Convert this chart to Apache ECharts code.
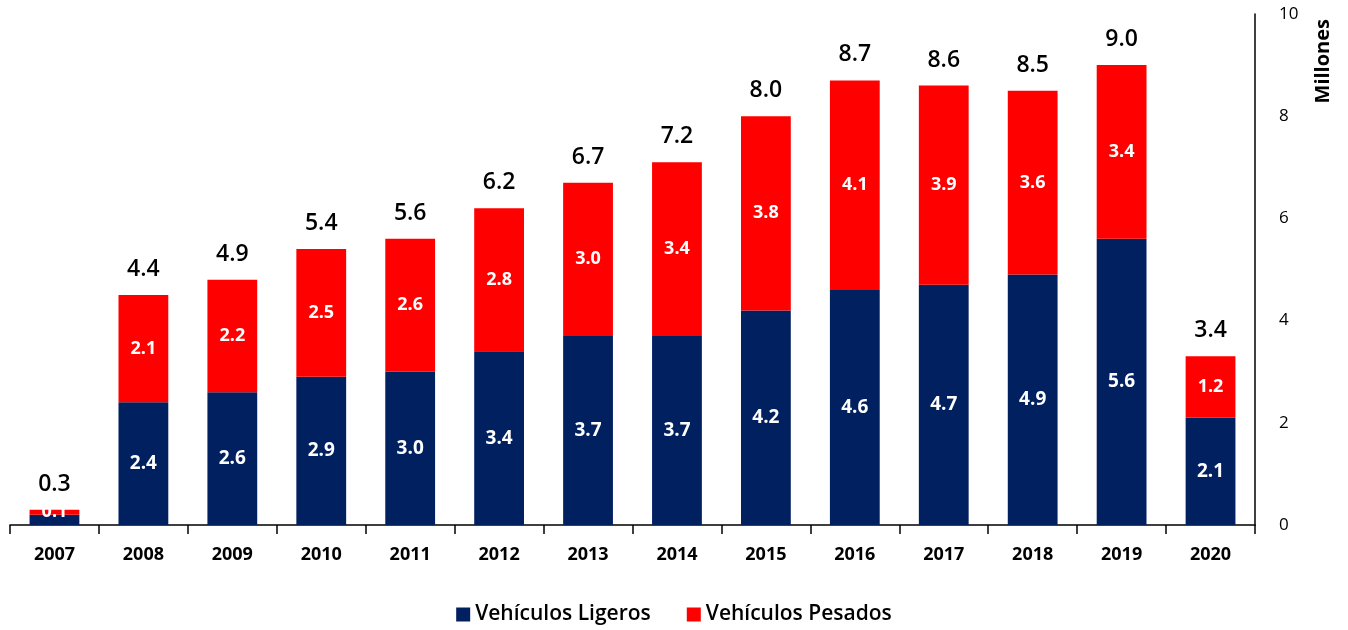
<!DOCTYPE html>
<html>
<head>
<meta charset="utf-8">
<script src="https://cdn.jsdelivr.net/npm/echarts@6/dist/echarts.min.js"></script>
<style>
  html, body { margin: 0; padding: 0; background: #fff; }
  #chart { width: 1348px; height: 630px; }
</style>
</head>
<body>
<div id="chart"></div>
<script>
// datos (millones de vehículos)
const years = ['2007', '2008', '2009', '2010', '2011', '2012', '2013', '2014', '2015', '2016', '2017', '2018', '2019', '2020']
const ligeros = [0.2, 2.4, 2.6, 2.9, 3.0, 3.4, 3.7, 3.7, 4.2, 4.6, 4.7, 4.9, 5.6, 2.1]
const pesados = [0.1, 2.1, 2.2, 2.5, 2.6, 2.8, 3.0, 3.4, 3.8, 4.1, 3.9, 3.6, 3.4, 1.2]
const totales = [0.3, 4.4, 4.9, 5.4, 5.6, 6.2, 6.7, 7.2, 8.0, 8.7, 8.6, 8.5, 9.0, 3.4]
const yTicks = [0, 2, 4, 6, 8, 10]

const font = '"Open Sans", sans-serif'
const chart = echarts.init(document.getElementById('chart'))

const option = {
  animation: false,
  textStyle: { fontFamily: font },
  grid: { left: 10, right: 93, top: 14, bottom: 105 },
  legend: {
    bottom: 0,
    left: 'center',
    itemWidth: 14,
    itemHeight: 14,
    itemGap: 36,
    icon: 'rect',
    textStyle: { fontSize: 21, fontWeight: 600, color: '#000', fontFamily: font },
    data: ['Vehículos Ligeros', 'Vehículos Pesados'],
  },
  xAxis: {
    type: 'category',
    data: years,
    axisLine: { lineStyle: { color: '#000', width: 1.5 } },
    axisTick: { show: true, length: 9, lineStyle: { color: '#000', width: 1.5 } },
    axisLabel: { fontSize: 18, fontWeight: 700, color: '#000', margin: 21 },
  },
  yAxis: {
    type: 'value',
    position: 'right',
    min: yTicks[0],
    max: yTicks[yTicks.length - 1],
    interval: 2,
    splitLine: { show: false },
    axisLine: { show: true, lineStyle: { color: '#000', width: 1.5 } },
    axisTick: { show: false },
    axisLabel: { fontSize: 17, color: '#000', margin: 24 },
  },
  graphic: [
    {
      type: 'text',
      x: 1313,
      y: 19,
      rotation: Math.PI / 2,
      style: { text: 'Millones', fontSize: 20, fontWeight: 700, fill: '#000', fontFamily: font, align: 'right' },
    },
  ],
  series: [
    {
      name: 'Vehículos Ligeros',
      type: 'bar',
      stack: 'total',
      barWidth: '56%',
      itemStyle: { color: '#002060' },
      label: {
        show: true,
        position: 'inside',
        color: '#fff',
        fontSize: 19,
        fontWeight: 700,
        formatter: (p) => (p.dataIndex === 0 ? '' : p.value.toFixed(1)),
      },
      data: ligeros,
    },
    {
      name: 'Vehículos Pesados',
      type: 'bar',
      stack: 'total',
      itemStyle: { color: '#ff0000' },
      label: {
        show: true,
        position: 'inside',
        color: '#fff',
        fontSize: 18,
        fontWeight: 700,
        formatter: (p) => p.value.toFixed(1),
      },
      data: pesados,
    },
    {
      // solo etiqueta del total
      name: 'Total',
      type: 'bar',
      stack: 'total',
      itemStyle: { color: 'transparent' },
      label: {
        show: true,
        position: 'top',
        distance: 14,
        color: '#000',
        fontSize: 23,
        fontWeight: 600,
        formatter: (p) => totales[p.dataIndex].toFixed(1),
      },
      data: totales.map(() => 0),
    },
  ],
}
chart.setOption(option)
</script>
</body>
</html>
